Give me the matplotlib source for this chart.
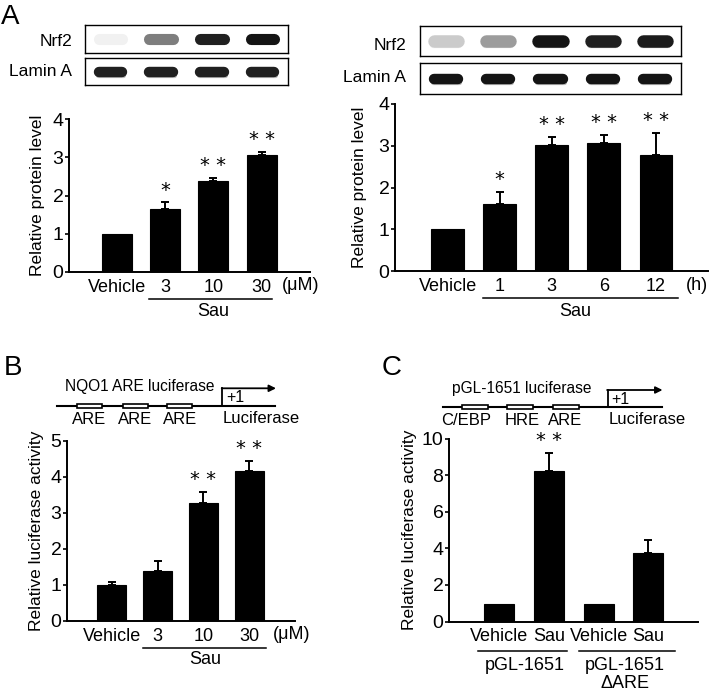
import matplotlib
matplotlib.use("Agg")
import matplotlib.pyplot as plt
from matplotlib.patches import Rectangle
from matplotlib.transforms import ScaledTranslation

plt.rcParams['font.family'] = ['Liberation Sans', 'DejaVu Sans']
plt.rcParams['font.size'] = 12

W, H = 709, 696

# ---- data ----
a1_labels = ['Vehicle', '3', '10', '30']
a1_mean = [1.0, 1.65, 2.38, 3.05]
a1_err = [0.0, 0.17, 0.08, 0.10]
a1_sig = ['', '*', '**', '**']
a1_nrf2 = [0.06, 0.55, 0.95, 1.0]
a1_lamin = [0.95, 0.95, 0.95, 0.95]

a2_labels = ['Vehicle', '1', '3', '6', '12']
a2_mean = [1.0, 1.60, 3.02, 3.06, 2.78]
a2_err = [0.0, 0.30, 0.20, 0.20, 0.52]
a2_sig = ['', '*', '**', '**', '**']
a2_nrf2 = [0.22, 0.42, 1.0, 0.95, 0.97]
a2_lamin = [1.0, 1.0, 1.0, 1.0, 1.0]

b_labels = ['Vehicle', '3', '10', '30']
b_mean = [1.0, 1.39, 3.28, 4.15]
b_err = [0.08, 0.26, 0.30, 0.29]
b_sig = ['', '', '**', '**']
b_elements = ['ARE', 'ARE', 'ARE']

c_labels = ['Vehicle', 'Sau', 'Vehicle', 'Sau']
c_mean = [0.95, 8.24, 0.95, 3.74]
c_err = [0.0, 0.98, 0.0, 0.73]
c_sig = ['', '**', '', '']
c_groups = ['pGL-1651', 'pGL-1651']
c_group_note = ['', '\u0394ARE']
c_elements = ['C/EBP', 'HRE', 'ARE']

fig = plt.figure(figsize=(W / 100, H / 100), dpi=100)


def px_axes(x0, y0, x1, y1):
    return fig.add_axes([x0 / W, 1 - y1 / H, (x1 - x0) / W, (y1 - y0) / H])


def below(ax, dy):
    # x in data, y = axis line shifted down by dy pixels
    return ax.get_xaxis_transform() + ScaledTranslation(0, -dy / 100, fig.dpi_scale_trans)


def bar_panel(box, labels, mean, err, sig, xlim, ymax, ystep, ylabel, width, lab_x):
    ax = px_axes(*box)
    x = list(range(len(mean)))
    ax.bar(x, mean, width=width, color='black', edgecolor='black', linewidth=0.8)
    ex = [i for i in x if err[i] > 0]
    ax.errorbar(ex, [mean[i] for i in ex], yerr=[[0] * len(ex), [err[i] for i in ex]],
                fmt='none', ecolor='black', elinewidth=1.4, capsize=3, capthick=1.4)
    for i in x:
        if sig[i]:
            ax.annotate(' '.join(sig[i]), (i, mean[i] + err[i]), xytext=(0, 2),
                        textcoords='offset points', ha='center', va='bottom',
                        fontsize=14, family=['DejaVu Sans'])
    ax.set_xlim(*xlim)
    ax.set_ylim(0, ymax)
    ax.set_yticks(range(0, ymax + 1, ystep))
    ax.set_xticks(x, labels)
    ax.tick_params(axis='x', length=0, pad=5, labelsize=13)
    ax.tick_params(axis='y', length=3, width=1.2, pad=1, labelsize=14)
    for s in ['top', 'right']:
        ax.spines[s].set_visible(False)
    for s in ['left', 'bottom']:
        ax.spines[s].set_linewidth(1.4)
    ax.patch.set_alpha(0)
    ax.set_ylabel(ylabel, fontsize=12.5)
    ax.yaxis.set_label_coords(lab_x, 0.5)
    return ax


def underline(ax, x1, x2, dy=27):
    ax.plot([x1, x2], [0, 0], color='black', lw=1.1, transform=below(ax, dy), clip_on=False)


def blot(box, vals, lw):
    ax = px_axes(*box)
    n = len(vals)
    ax.set_xlim(-0.5, n - 0.5)
    ax.set_ylim(0, 1)
    for i, v in enumerate(vals):
        g = 1 - 0.92 * v
        ax.plot([i - 0.23, i + 0.23], [0.5, 0.5], color=str(g), lw=lw, solid_capstyle='round')
        ax.plot([i - 0.25, i + 0.25], [0.38, 0.38], color=str(g), lw=lw * 0.5,
                solid_capstyle='round', alpha=0.3)
    ax.set_xticks([])
    ax.set_yticks([])
    for s in ax.spines.values():
        s.set_linewidth(1.0)
    return ax


# overlay in pixel coordinates for letters and schematics
ov = fig.add_axes([0, 0, 1, 1])
ov.set_xlim(0, W)
ov.set_ylim(H, 0)
ov.axis('off')

for letter, (lx, ly) in zip('ABC', [(10, 17), (13, 368), (392, 368)]):
    ov.text(lx, ly, letter, fontsize=20, ha='center', va='center')

# ---- panel A blots ----
blot((85, 25, 288, 53), a1_nrf2, 8)
blot((85, 58, 288, 85), a1_lamin, 7.5)
blot((420, 26, 681, 56), a2_nrf2, 9)
blot((420, 63, 681, 94), a2_lamin, 7.5)
ov.text(72, 41, 'Nrf2', ha='right', va='center', fontsize=12.5)
ov.text(72, 72, 'Lamin A', ha='right', va='center', fontsize=12.5)
ov.text(406, 46, 'Nrf2', ha='right', va='center', fontsize=12.5)
ov.text(406, 78, 'Lamin A', ha='right', va='center', fontsize=12.5)

# ---- panel A charts ----
ax1 = bar_panel((69, 119, 310, 272), a1_labels, a1_mean, a1_err, a1_sig,
                (-0.99, 4.0), 4, 1, 'Relative protein level', 0.62, -0.1)
ax1.text(3.8, 0, '(\u03bcM)', transform=below(ax1, 5.5), ha='center', va='top', fontsize=13)
underline(ax1, 0.67, 3.22)
ax1.text(2.0, 0, 'Sau', transform=below(ax1, 39), ha='center', va='center', fontsize=13)

ax2 = bar_panel((395, 104, 708, 271), a2_labels, a2_mean, a2_err, a2_sig,
                (-1.01, 5.0), 4, 1, 'Relative protein level', 0.63, -0.09)
ax2.text(4.78, 0, '(h)', transform=below(ax2, 5.5), ha='center', va='top', fontsize=13)
underline(ax2, 0.68, 4.42)
ax2.text(2.45, 0, 'Sau', transform=below(ax2, 40), ha='center', va='center', fontsize=13)

# ---- panel B ----
ov.plot([57, 275], [405.7, 405.7], color='black', lw=1.5)
for cx, name in zip([89, 135.5, 179.7], b_elements):
    ov.add_patch(Rectangle((cx - 12.5, 403.5), 25, 4.4, facecolor='white', edgecolor='black', lw=1.2, zorder=3))
    ov.text(cx, 419, name, ha='center', va='center', fontsize=12)
ov.plot([222.3, 222.3], [405.7, 388.3], color='black', lw=1.3)
ov.annotate('', xy=(276, 388.3), xytext=(221.7, 388.3),
            arrowprops=dict(arrowstyle='-|>', lw=1.3, color='black', mutation_scale=10, shrinkA=0, shrinkB=0))
ov.text(226.5, 398, '+1', ha='left', va='center', fontsize=11.5)
ov.text(222.7, 418.3, 'Luciferase', ha='left', va='center', fontsize=12)
ov.text(65, 386.7, 'NQO1 ARE luciferase', ha='left', va='center', fontsize=11.2)

ax3 = bar_panel((67, 440.7, 295, 620.7), b_labels, b_mean, b_err, b_sig,
                (-0.98, 4.0), 5, 1, 'Relative luciferase activity', 0.63, -0.1)
ax3.text(3.92, 0, '(\u03bcM)', transform=below(ax3, 5.5), ha='center', va='top', fontsize=13)
underline(ax3, 0.68, 3.37)
ax3.text(2.04, 0, 'Sau', transform=below(ax3, 39), ha='center', va='center', fontsize=13)

# ---- panel C ----
ov.plot([442.7, 661.7], [406.7, 406.7], color='black', lw=1.5)
for cx, lab_x, name in zip([474.7, 520.3, 565.5], [465.7, 522.5, 565.3], c_elements):
    ov.add_patch(Rectangle((cx - 13, 404.5), 26, 4.4, facecolor='white', edgecolor='black', lw=1.2, zorder=3))
    ov.text(lab_x, 420.7, name, ha='center', va='center', fontsize=12)
ov.plot([607.7, 607.7], [406.7, 390], color='black', lw=1.3)
ov.annotate('', xy=(662.5, 390), xytext=(607.1, 390),
            arrowprops=dict(arrowstyle='-|>', lw=1.3, color='black', mutation_scale=10, shrinkA=0, shrinkB=0))
ov.text(611.7, 400, '+1', ha='left', va='center', fontsize=11.5)
ov.text(608.3, 420, 'Luciferase', ha='left', va='center', fontsize=12)
ov.text(451.7, 388.3, 'pGL-1651 luciferase', ha='left', va='center', fontsize=11.2)

ax4 = bar_panel((449, 438.5, 698, 621.5), c_labels, c_mean, c_err, c_sig,
                (-1.01, 4.0), 10, 2, 'Relative luciferase activity', 0.6, -0.13)
underline(ax4, -0.42, 1.37, 29)
underline(ax4, 1.61, 3.54, 29)
for gx, name, note in zip([0.52, 2.53], c_groups, c_group_note):
    ax4.text(gx, 0, name, transform=below(ax4, 43.5), ha='center', va='center', fontsize=13)
    if note:
        ax4.text(gx, 0, note, transform=below(ax4, 62.5), ha='center', va='center', fontsize=13)

fig.savefig('out.png', dpi=100)
